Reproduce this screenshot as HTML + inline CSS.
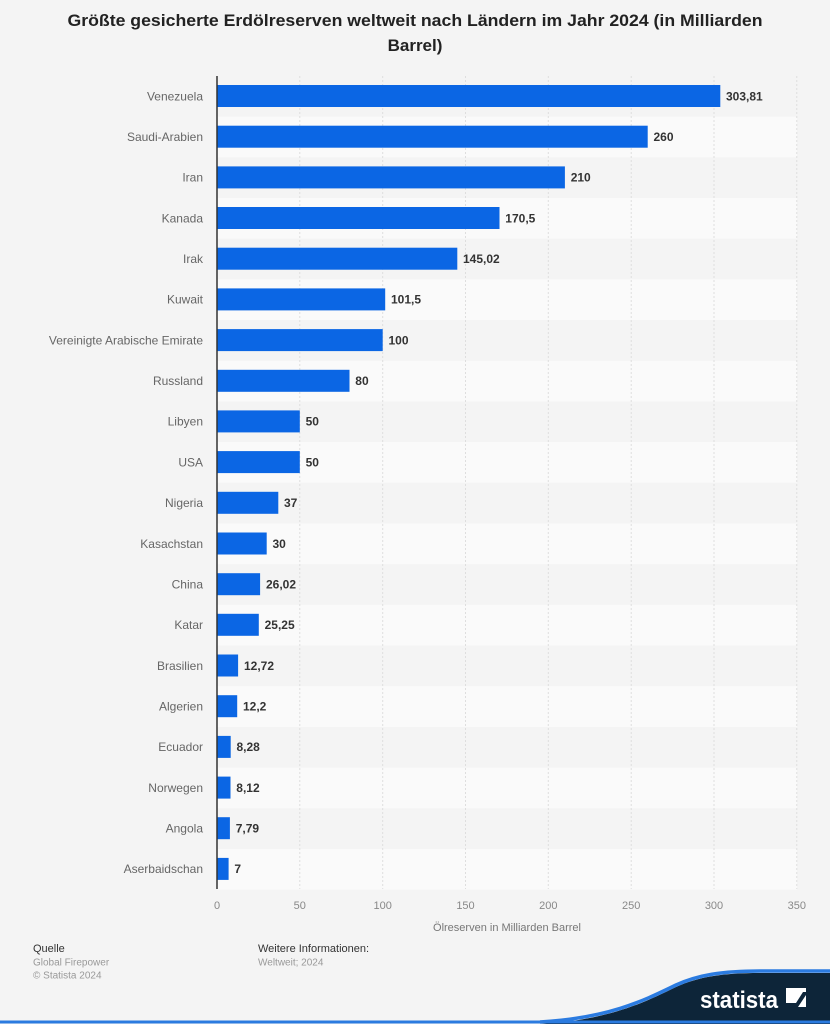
<!DOCTYPE html>
<html><head><meta charset="utf-8"><style>
html,body{margin:0;padding:0;background:#f4f4f4;}
svg{display:block;font-family:"Liberation Sans",Arial,sans-serif;}
</style></head><body>
<svg width="830" height="1024" viewBox="0 0 830 1024" xmlns="http://www.w3.org/2000/svg">
<rect x="0" y="0" width="830" height="1024" fill="#f4f4f4"/>
<text x="415" y="26" text-anchor="middle" font-size="17" font-weight="bold" fill="#222" textLength="695" lengthAdjust="spacingAndGlyphs">Größte gesicherte Erdölreserven weltweit nach Ländern im Jahr 2024 (in Milliarden</text>
<text x="415" y="51" text-anchor="middle" font-size="17" font-weight="bold" fill="#222">Barrel)</text>

<!-- bands -->
<g fill="#fafafa">
<rect x="217" y="116.7" width="580" height="40.68"/>
<rect x="217" y="198.0" width="580" height="40.68"/>
<rect x="217" y="279.4" width="580" height="40.68"/>
<rect x="217" y="360.8" width="580" height="40.68"/>
<rect x="217" y="442.1" width="580" height="40.68"/>
<rect x="217" y="523.5" width="580" height="40.68"/>
<rect x="217" y="604.8" width="580" height="40.68"/>
<rect x="217" y="686.2" width="580" height="40.68"/>
<rect x="217" y="767.6" width="580" height="40.68"/>
<rect x="217" y="848.9" width="580" height="40.68"/>
</g>

<!-- gridlines -->
<g stroke="#dedede" stroke-width="1" stroke-dasharray="2,2">
<line x1="299.8" y1="76" x2="299.8" y2="889"/>
<line x1="382.7" y1="76" x2="382.7" y2="889"/>
<line x1="465.5" y1="76" x2="465.5" y2="889"/>
<line x1="548.3" y1="76" x2="548.3" y2="889"/>
<line x1="631.2" y1="76" x2="631.2" y2="889"/>
<line x1="714" y1="76" x2="714" y2="889"/>
<line x1="796.8" y1="76" x2="796.8" y2="889"/>
</g>

<!-- bars -->
<g fill="#0b66e4">
<rect x="217.5" y="85" width="502.8" height="22"/>
<rect x="217.5" y="125.7" width="430.2" height="22"/>
<rect x="217.5" y="166.4" width="347.4" height="22"/>
<rect x="217.5" y="207" width="282" height="22"/>
<rect x="217.5" y="247.7" width="239.8" height="22"/>
<rect x="217.5" y="288.4" width="167.7" height="22"/>
<rect x="217.5" y="329.1" width="165.2" height="22"/>
<rect x="217.5" y="369.8" width="132" height="22"/>
<rect x="217.5" y="410.4" width="82.3" height="22"/>
<rect x="217.5" y="451.1" width="82.3" height="22"/>
<rect x="217.5" y="491.8" width="60.8" height="22"/>
<rect x="217.5" y="532.5" width="49.2" height="22"/>
<rect x="217.5" y="573.2" width="42.6" height="22"/>
<rect x="217.5" y="613.8" width="41.3" height="22"/>
<rect x="217.5" y="654.5" width="20.6" height="22"/>
<rect x="217.5" y="695.2" width="19.7" height="22"/>
<rect x="217.5" y="735.9" width="13.2" height="22"/>
<rect x="217.5" y="776.6" width="13" height="22"/>
<rect x="217.5" y="817.2" width="12.4" height="22"/>
<rect x="217.5" y="857.9" width="11.1" height="22"/>
</g>

<!-- axis -->
<line x1="217" y1="76" x2="217" y2="889" stroke="#333" stroke-width="1.5"/>

<!-- category labels -->
<g font-size="12" fill="#666" text-anchor="end">
<text x="203" y="100.3">Venezuela</text>
<text x="203" y="141">Saudi-Arabien</text>
<text x="203" y="181.7">Iran</text>
<text x="203" y="222.3">Kanada</text>
<text x="203" y="263">Irak</text>
<text x="203" y="303.7">Kuwait</text>
<text x="203" y="344.4">Vereinigte Arabische Emirate</text>
<text x="203" y="385.1">Russland</text>
<text x="203" y="425.7">Libyen</text>
<text x="203" y="466.4">USA</text>
<text x="203" y="507.1">Nigeria</text>
<text x="203" y="547.8">Kasachstan</text>
<text x="203" y="588.5">China</text>
<text x="203" y="629.1">Katar</text>
<text x="203" y="669.8">Brasilien</text>
<text x="203" y="710.5">Algerien</text>
<text x="203" y="751.2">Ecuador</text>
<text x="203" y="791.9">Norwegen</text>
<text x="203" y="832.5">Angola</text>
<text x="203" y="873.2">Aserbaidschan</text>
</g>

<!-- value labels -->
<g font-size="12" font-weight="bold" fill="#333">
<text x="726" y="100.3">303,81</text>
<text x="653.5" y="141">260</text>
<text x="570.7" y="181.7">210</text>
<text x="505.3" y="222.3">170,5</text>
<text x="463" y="263">145,02</text>
<text x="391" y="303.7">101,5</text>
<text x="388.5" y="344.4">100</text>
<text x="355.3" y="385.1">80</text>
<text x="305.6" y="425.7">50</text>
<text x="305.6" y="466.4">50</text>
<text x="284" y="507.1">37</text>
<text x="272.5" y="547.8">30</text>
<text x="266" y="588.5">26,02</text>
<text x="264.6" y="629.1">25,25</text>
<text x="244" y="669.8">12,72</text>
<text x="243" y="710.5">12,2</text>
<text x="236.5" y="751.2">8,28</text>
<text x="236.3" y="791.9">8,12</text>
<text x="235.7" y="832.5">7,79</text>
<text x="234.4" y="873.2">7</text>
</g>

<!-- ticks -->
<g font-size="11" fill="#888" text-anchor="middle">
<text x="217" y="909">0</text>
<text x="299.8" y="909">50</text>
<text x="382.7" y="909">100</text>
<text x="465.5" y="909">150</text>
<text x="548.3" y="909">200</text>
<text x="631.2" y="909">250</text>
<text x="714" y="909">300</text>
<text x="796.8" y="909">350</text>
</g>
<text x="507" y="931" text-anchor="middle" font-size="11" fill="#777">Ölreserven in Milliarden Barrel</text>

<!-- footer -->
<text x="33" y="952" font-size="11" fill="#333">Quelle</text>
<text x="33" y="965.5" font-size="10" fill="#999">Global Firepower</text>
<text x="33" y="978.5" font-size="10" fill="#999">© Statista 2024</text>
<text x="258" y="952" font-size="11" fill="#333">Weitere Informationen:</text>
<text x="258" y="965.5" font-size="10" fill="#999">Weltweit; 2024</text>

<!-- statista logo band -->
<path d="M 540 1024 C 610 1020, 645 1002, 676 987 C 698 977, 722 973, 760 973 L 830 973 L 830 1024 Z" fill="#0d2539"/>
<path d="M 540 1022 C 610 1018, 645 1000, 676 985 C 698 975, 722 971, 760 971 L 830 971" fill="none" stroke="#2b7be0" stroke-width="3.5"/>
<line x1="0" y1="1022" x2="830" y2="1022" stroke="#2b7be0" stroke-width="3"/>
<text x="700" y="1008" font-size="24" font-weight="bold" fill="#ffffff" textLength="78" lengthAdjust="spacingAndGlyphs">statista</text>
<rect x="786" y="988" width="20" height="19" fill="#ffffff"/>
<path d="M 786 1003 L 796 1003 L 803 992 L 806 992 L 806 995 L 798 1007 L 786 1007 Z" fill="#0d2539"/>
<path d="M 786 988 L 786 1000 L 792 1000 L 798 991 L 806 991 L 806 988 Z" fill="#ffffff"/>
</svg>
</body></html>
